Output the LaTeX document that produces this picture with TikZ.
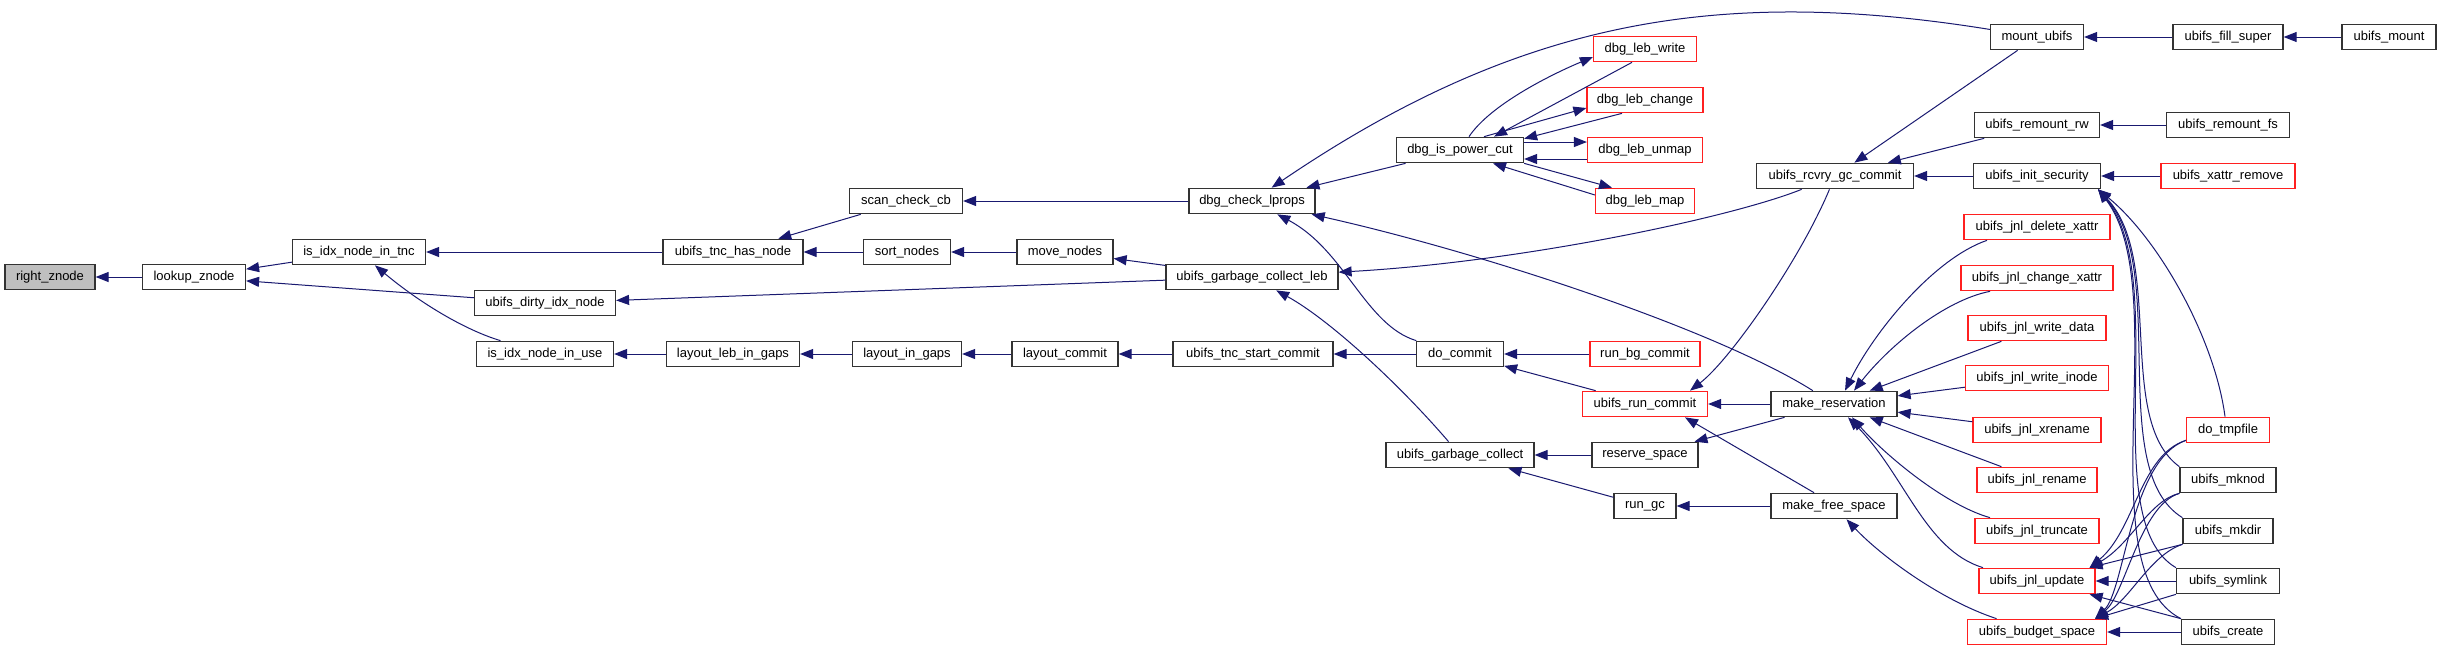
\documentclass[tikz,border=0pt]{standalone}
\usepackage{fontspec}
\setmainfont{Liberation Sans}
\usetikzlibrary{arrows.meta}
\definecolor{eblue}{HTML}{191970}
\definecolor{bgray}{HTML}{BFBFBF}
\definecolor{bred}{HTML}{FF2020}
\begin{document}
\begin{tikzpicture}[x=1pt,y=-1pt,
  fn/.style={draw=black!80, line width=1.2pt, rectangle, minimum height=25.5pt, inner sep=0pt, font=\fontsize{13}{15}\selectfont, text=black},
  fr/.style={fn, draw=bred},
  e/.style={draw=eblue, line width=1pt, {Triangle[length=13pt,width=10pt]}-}]
\fill[white] (0,0) rectangle (2441,651);
\useasboundingbox (0,0) rectangle (2441,651);
% nodes
\node[fn, minimum width=90pt, fill=bgray] (rz) at (50,277) {right\_znode};
\node[fn, minimum width=103pt] (lz) at (194,277) {lookup\_znode};
\node[fn, minimum width=133pt] (tnc) at (359,252) {is\_idx\_node\_in\_tnc};
\node[fn, minimum width=141pt] (dirty) at (545,303) {ubifs\_dirty\_idx\_node};
\node[fn, minimum width=137pt] (inuse) at (545,354) {is\_idx\_node\_in\_use};
\node[fn, minimum width=113pt] (scb) at (906,201) {scan\_check\_cb};
\node[fn, minimum width=140pt] (hasnode) at (733,252) {ubifs\_tnc\_has\_node};
\node[fn, minimum width=87pt] (sortn) at (907,252) {sort\_nodes};
\node[fn, minimum width=96pt] (moven) at (1065,252) {move\_nodes};
\node[fn, minimum width=126pt] (dcl) at (1252,201) {dbg\_check\_lprops};
\node[fn, minimum width=172pt] (gcleb) at (1252,277) {ubifs\_garbage\_collect\_leb};
\node[fn, minimum width=133pt] (llig) at (733,354) {layout\_leb\_in\_gaps};
\node[fn, minimum width=109pt] (lig) at (907,354) {layout\_in\_gaps};
\node[fn, minimum width=106pt] (lc) at (1065,354) {layout\_commit};
\node[fn, minimum width=160pt] (tsc) at (1253,354) {ubifs\_tnc\_start\_commit};
\node[fr, minimum width=103pt] (dlw) at (1645,49) {dbg\_leb\_write};
\node[fr, minimum width=116pt] (dlc) at (1645,100) {dbg\_leb\_change};
\node[fn, minimum width=127pt] (dipc) at (1460,150) {dbg\_is\_power\_cut};
\node[fr, minimum width=115pt] (dlu) at (1645,150) {dbg\_leb\_unmap};
\node[fr, minimum width=99pt] (dlm) at (1645,201) {dbg\_leb\_map};
\node[fn, minimum width=157pt] (rcvry) at (1835,176) {ubifs\_rcvry\_gc\_commit};
\node[fn, minimum width=87pt] (docommit) at (1460,354) {do\_commit};
\node[fr, minimum width=110pt] (runbg) at (1645,354) {run\_bg\_commit};
\node[fr, minimum width=125pt] (runc) at (1645,404) {ubifs\_run\_commit};
\node[fn, minimum width=126pt] (mr) at (1834,404) {make\_reservation};
\node[fn, minimum width=148pt] (gc) at (1460,455) {ubifs\_garbage\_collect};
\node[fn, minimum width=106pt] (rs) at (1645,455) {reserve\_space};
\node[fn, minimum width=62pt] (rungc) at (1645,506) {run\_gc};
\node[fn, minimum width=126pt] (mfs) at (1834,506) {make\_free\_space};
\node[fn, minimum width=93pt] (mount) at (2037,37) {mount\_ubifs};
\node[fn, minimum width=110pt] (fill) at (2228,37) {ubifs\_fill\_super};
\node[fn, minimum width=94pt] (umount) at (2389,37) {ubifs\_mount};
\node[fn, minimum width=125pt] (rrw) at (2037,125) {ubifs\_remount\_rw};
\node[fn, minimum width=123pt] (rfs) at (2228,125) {ubifs\_remount\_fs};
\node[fn, minimum width=127pt] (is) at (2037,176) {ubifs\_init\_security};
\node[fr, minimum width=134pt] (xr) at (2228,176) {ubifs\_xattr\_remove};
\node[fr, minimum width=146pt] (jdx) at (2037,227) {ubifs\_jnl\_delete\_xattr};
\node[fr, minimum width=152pt] (jcx) at (2037,278) {ubifs\_jnl\_change\_xattr};
\node[fr, minimum width=138pt] (jwd) at (2037,328) {ubifs\_jnl\_write\_data};
\node[fr, minimum width=143pt] (jwi) at (2037,378) {ubifs\_jnl\_write\_inode};
\node[fr, minimum width=128pt] (jxr) at (2037,430) {ubifs\_jnl\_xrename};
\node[fr, minimum width=120pt] (jr) at (2037,480) {ubifs\_jnl\_rename};
\node[fr, minimum width=124pt] (jt) at (2037,531) {ubifs\_jnl\_truncate};
\node[fr, minimum width=116pt] (ju) at (2037,581) {ubifs\_jnl\_update};
\node[fr, minimum width=139pt] (bs) at (2037,632) {ubifs\_budget\_space};
\node[fr, minimum width=83pt] (dt) at (2228,430) {do\_tmpfile};
\node[fn, minimum width=96pt] (mknod) at (2228,480) {ubifs\_mknod};
\node[fn, minimum width=90pt] (mkdir) at (2228,531) {ubifs\_mkdir};
\node[fn, minimum width=103pt] (symlink) at (2228,581) {ubifs\_symlink};
\node[fn, minimum width=93pt] (create) at (2228,632) {ubifs\_create};
% edges (arrow at the first node)
\draw[e] (rz) -- (lz);
\draw[e] (lz) -- (tnc);
\draw[e] (lz) -- (dirty);
\draw[e] (tnc) -- (hasnode);
\draw[e] (tnc) .. controls (420,303) and (465,330) .. (inuse);
\draw[e] (hasnode) -- (scb);
\draw[e] (hasnode) -- (sortn);
\draw[e] (sortn) -- (moven);
\draw[e] (moven) -- (gcleb);
\draw[e] (scb) -- (dcl);
\draw[e] (dirty) -- (gcleb);
\draw[e] (inuse) -- (llig);
\draw[e] (llig) -- (lig);
\draw[e] (lig) -- (lc);
\draw[e] (lc) -- (tsc);
\draw[e] (tsc) -- (docommit);
\draw[e] (dcl) .. controls (1520,19) and (1720,-14) .. (mount);
\draw[e] (dcl) -- (dipc);
\draw[e] (dcl) .. controls (1480,252) and (1715,329) .. (mr);
\draw[e] (dcl) .. controls (1345,250) and (1365,325) .. (docommit);
\draw[e] (gcleb) .. controls (1520,262) and (1730,218) .. (rcvry);
\draw[e] (gcleb) .. controls (1330,320) and (1400,385) .. (gc);
% dbg_is_power_cut cluster
\draw[e] ([yshift=-8pt]dlw.west) .. controls (1550,75) and (1490,105) .. ([xshift=9pt]dipc.north);
\draw[e] ([xshift=34pt]dipc.north) -- ([xshift=-13pt]dlw.south);
\draw[e] ([yshift=-8pt]dlc.west) -- ([xshift=24pt]dipc.north);
\draw[e] ([yshift=-2pt]dipc.north east) -- ([xshift=-23pt]dlc.south);
\draw[e] ([yshift=8pt]dlu.west) -- ([yshift=8pt]dipc.east);
\draw[e] ([yshift=-9pt]dipc.east) -- ([yshift=-9pt]dlu.west);
\draw[e] ([xshift=-33pt]dlm.north) -- (dipc.south east);
\draw[e] ([xshift=33pt]dipc.south) -- ([yshift=6pt]dlm.west);
% commit
\draw[e] (docommit) -- (runbg);
\draw[e] (docommit) -- (runc);
\draw[e] (runc) -- (mr);
\draw[e] ([xshift=45pt]runc.north) .. controls (1730,360) and (1800,260) .. (rcvry);
\draw[e] ([xshift=40pt]runc.south) -- ([xshift=-20pt]mfs.north);
\draw[e] (gc) -- (rs);
\draw[e] (gc) -- (rungc);
\draw[e] (rs) -- (mr);
\draw[e] (rungc) -- (mfs);
\draw[e] (mfs) .. controls (1880,555) and (1940,600) .. (bs);
% make_reservation callers
\draw[e] ([xshift=11pt]mr.north) .. controls (1875,330) and (1935,258) .. ([xshift=-50pt]jdx.south);
\draw[e] ([xshift=20pt]mr.north) .. controls (1890,345) and (1945,300) .. ([xshift=-47pt]jcx.south);
\draw[e] (mr) -- (jwd);
\draw[e] (mr) -- (jwi);
\draw[e] (mr) -- (jxr);
\draw[e] (mr) -- (jr);
\draw[e] ([xshift=18pt]mr.south) .. controls (1885,455) and (1945,505) .. ([xshift=-47pt]jt.north);
\draw[e] ([xshift=14pt]mr.south) .. controls (1905,475) and (1925,550) .. ([xshift=-54pt]ju.north);
% right part
\draw[e] (rcvry) -- (is);
\draw[e] (rcvry) -- (mount);
\draw[e] (rcvry) -- (rrw);
\draw[e] (mount) -- (fill);
\draw[e] (fill) -- (umount);
\draw[e] (rrw) -- (rfs);
\draw[e] (is) -- (xr);
\draw[e] ([xshift=-3pt]is.south east) .. controls (2160,240) and (2215,340) .. ([xshift=-3pt]dt.north);
\draw[e] ([xshift=-3pt]is.south east) .. controls (2165,260) and (2115,420) .. (mknod.north west);
\draw[e] ([xshift=-3pt]is.south east) .. controls (2170,270) and (2105,470) .. (mkdir.north west);
\draw[e] ([xshift=-3pt]is.south east) .. controls (2172,280) and (2095,520) .. (symlink.north west);
\draw[e] ([xshift=-3pt]is.south east) .. controls (2175,290) and (2085,570) .. (create.north west);
\draw[e] ([xshift=-6pt]ju.north east) .. controls (2135,530) and (2140,455) .. ([yshift=3pt]dt.south west);
\draw[e] ([xshift=-12pt]bs.north east) .. controls (2125,590) and (2130,460) .. ([yshift=3pt]dt.south west);
\draw[e] ([xshift=-6pt]ju.north east) .. controls (2130,545) and (2150,500) .. (mknod.south west);
\draw[e] ([xshift=-12pt]bs.north east) .. controls (2125,595) and (2140,505) .. (mknod.south west);
\draw[e] ([xshift=-6pt]ju.north east) -- (mkdir.south west);
\draw[e] ([xshift=-12pt]bs.north east) .. controls (2130,600) and (2150,555) .. (mkdir.south west);
\draw[e] (ju) -- (symlink);
\draw[e] ([xshift=-12pt]bs.north east) -- (symlink.south west);
\draw[e] ([xshift=-6pt]ju.south east) -- (create.north west);
\draw[e] (bs) -- (create);
\end{tikzpicture}
\end{document}
